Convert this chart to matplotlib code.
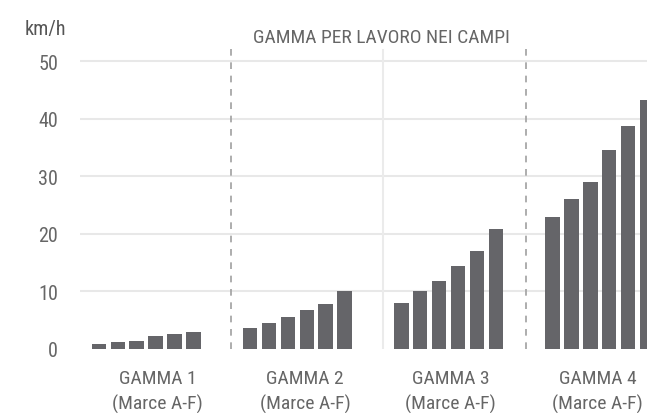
import matplotlib
matplotlib.use("Agg")
import matplotlib.pyplot as plt

plt.rcParams['font.family'] = ["Roboto Condensed", "DejaVu Sans"]

# data
groups = ["GAMMA 1\n(Marce A-F)", "GAMMA 2\n(Marce A-F)", "GAMMA 3\n(Marce A-F)", "GAMMA 4\n(Marce A-F)"]
brands = ["A", "B", "C", "D", "E", "F"]
gamma1 = [0.9, 1.2, 1.45, 2.2, 2.55, 3.0]
gamma2 = [3.65, 4.6, 5.55, 6.8, 7.9, 10.0]
gamma3 = [8.0, 10.0, 11.9, 14.4, 17.1, 20.9]
gamma4 = [23.0, 26.0, 29.0, 34.6, 38.8, 43.3]
series = [gamma1, gamma2, gamma3, gamma4]
yticks = [0, 10, 20, 30, 40, 50]
title = "GAMMA PER LAVORO NEI CAMPI"
unit = "km/h"

W, H = 647, 414
fig = plt.figure(figsize=(W / 100, H / 100), dpi=100)
ax = fig.add_axes([80 / W, (H - 350) / H, 567 / W, 305 / H])

bar_color = "#656569"
for g, vals in enumerate(series):
    xs = [8 * g + i for i in range(len(vals))]
    ax.bar(xs, vals, width=0.77, color=bar_color, zorder=3)

ax.set_xlim(-1, 29)
ax.set_ylim(0, 53)

for y in yticks[1:]:
    ax.axhline(y, color="#e8e8e8", lw=1.5, zorder=1)

ax.axvline(7, color="#a0a0a0", lw=1.2, ls=(0, (4, 4)), zorder=2)
ax.axvline(22.6, color="#a0a0a0", lw=1.2, ls=(0, (4, 4)), zorder=2)
ax.axvline(15.05, ymax=52 / 53, color="#ebebeb", lw=1.5, zorder=1)

ax.set_yticks(yticks)
ax.set_yticklabels([str(v) for v in yticks], fontsize=14.5, color="#666666")
ax.tick_params(axis="y", length=0, pad=15.8)
ax.set_xticks([])
for s in ax.spines.values():
    s.set_visible(False)

label_x = [3.1, 10.9, 18.6, 26.4]
for lx, lab in zip(label_x, groups):
    ax.text(lx, -3.5, lab, ha="center", va="top", fontsize=14, color="#666666",
            linespacing=1.48, clip_on=False)

fig.text(381 / W, 1 - 38 / H, title, ha="center", va="center", fontsize=14, color="#666666")
fig.text(45 / W, 1 - 30 / H, unit, ha="center", va="center", fontsize=14.5, color="#555555")

fig.savefig("out.png", dpi=100)
